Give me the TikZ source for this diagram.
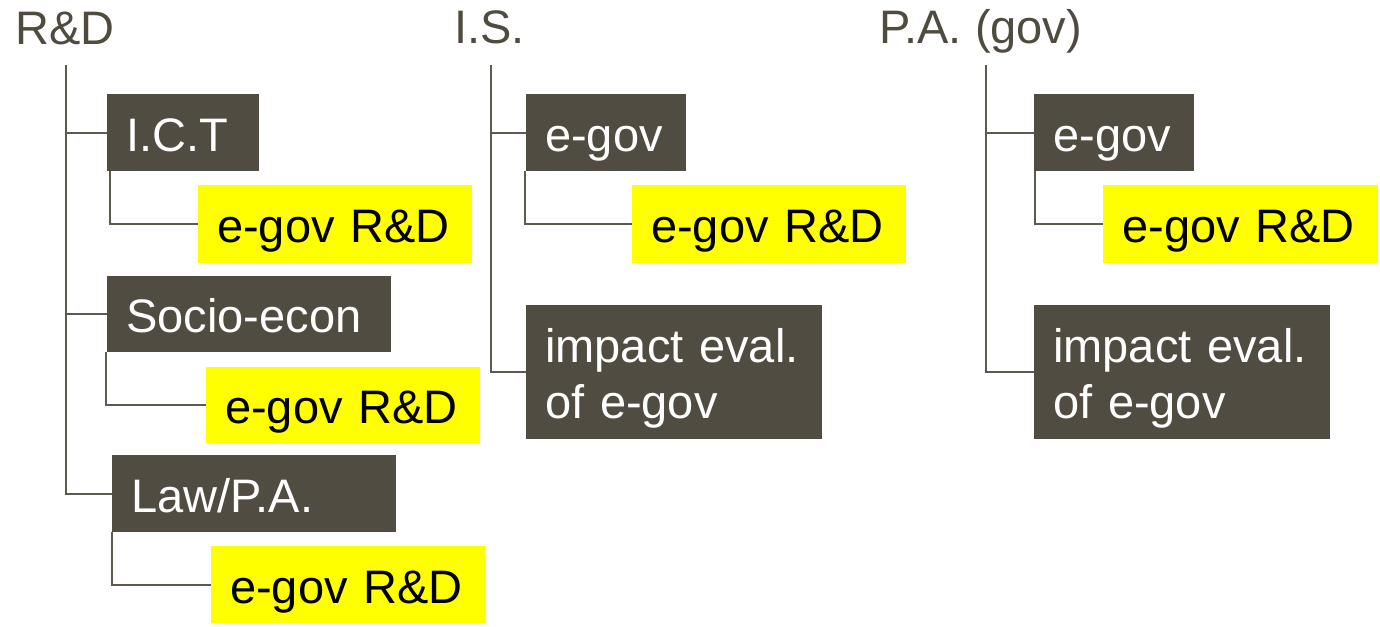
\documentclass[tikz,border=0pt]{standalone}
\usepackage{fontspec}
\setmainfont{Liberation Sans}
\definecolor{boxbg}{HTML}{514C41}
\definecolor{hdr}{HTML}{4F4B40}
\definecolor{conn}{HTML}{5E5A50}
\definecolor{ylw}{HTML}{FFFF00}
\tikzset{
  base/.style={anchor=north west, inner xsep=19pt, inner ysep=0pt, minimum height=77pt,
    text height=37pt, text depth=0pt, align=left,
    font=\fontsize{47}{56}\selectfont},
  dbox/.style={base, fill=boxbg, text=white},
  ybox/.style={base, fill=ylw, text=black},
  hdrtxt/.style={anchor=base west, inner sep=0pt, text=hdr, font=\fontsize{47}{56}\selectfont},
  conline/.style={draw=conn, line width=1.6pt}
}
\begin{document}
\begin{tikzpicture}[x=1pt,y=1pt]
\useasboundingbox (0,0) rectangle (1380,-626);
% headers
\node[hdrtxt] (rd) at (15,-45) {R\&D};
\node[hdrtxt] (is) at (454,-44) {I.S.};
\node[hdrtxt] (pa) at (879,-44) {P.A. (gov)};
\coordinate (rdtop) at (66,-65);
\coordinate (istop) at (491,-65);
\coordinate (patop) at (986,-65);
% R&D column
\node[dbox, text width=114pt] (ict) at (107,-94) {I.C.T};
\node[ybox, text width=236pt, minimum height=78pt] (y1) at (198,-185) {e-gov R\&D};
\node[dbox, text width=246pt, minimum height=76pt] (soc) at (107,-276) {Socio-econ};
\node[ybox, text width=236pt, minimum height=76pt] (y2) at (206,-367) {e-gov R\&D};
\node[dbox, text width=246pt] (law) at (112,-455) {Law/P.A.};
\node[ybox, text width=236pt] (y3) at (211,-546) {e-gov R\&D};
% I.S. column
\node[dbox, text width=122pt] (isg) at (526,-94) {e-gov};
\node[ybox, text width=236pt, minimum height=78pt] (isy) at (632,-185) {e-gov R\&D};
\node[dbox, text width=258pt, minimum height=134pt, text depth=56pt] (isi) at (526,-305) {impact eval.\\of e-gov};
% P.A. column
\node[dbox, text width=122pt] (pag) at (1034,-94) {e-gov};
\node[ybox, text width=237pt, minimum height=78pt] (pay) at (1103,-185) {e-gov R\&D};
\node[dbox, text width=258pt, minimum height=134pt, text depth=56pt] (pai) at (1034,-305) {impact eval.\\of e-gov};
% connectors R&D
\draw[conline] (rdtop) |- (law.west);
\draw[conline] (rdtop |- ict.west) -- (ict.west);
\draw[conline] (rdtop |- soc.west) -- (soc.west);
\draw[conline] ([xshift=3pt]ict.south west) |- (y1.west);
\draw[conline] ([xshift=-1pt]soc.south west) |- (y2.west);
\draw[conline] (law.south west) |- (y3.west);
% connectors I.S.
\draw[conline] (istop) |- (isi.west);
\draw[conline] (istop |- isg.west) -- (isg.west);
\draw[conline] ([xshift=-1pt]isg.south west) |- (isy.west);
% connectors P.A.
\draw[conline] (patop) |- (pai.west);
\draw[conline] (patop |- pag.west) -- (pag.west);
\draw[conline] ([xshift=1pt]pag.south west) |- (pay.west);
\end{tikzpicture}
\end{document}
